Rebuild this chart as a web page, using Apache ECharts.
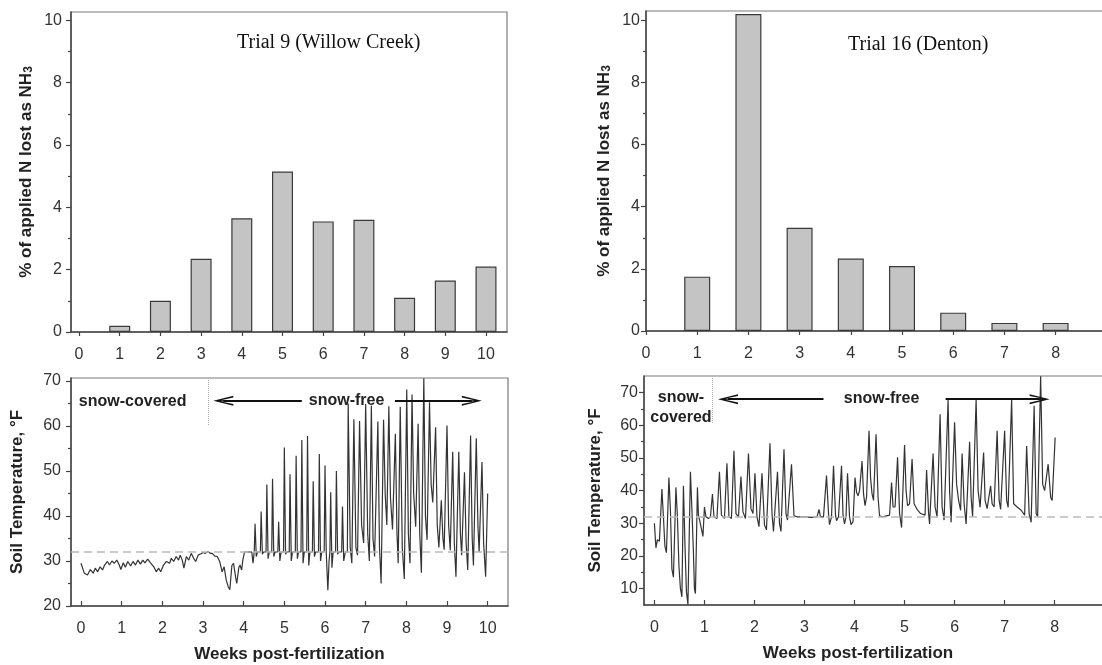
<!DOCTYPE html>
<html>
<head>
<meta charset="utf-8">
<script src="https://cdn.jsdelivr.net/npm/echarts@6/dist/echarts.min.js"></script>
<style>
html, body { margin: 0; padding: 0; background: #fff; }
#chart { width: 1102px; height: 665px; }
</style>
</head>
<body>
<div id="chart"></div>
<script>
// ammonia loss per week (% of applied N)
var trial9Weeks = [1, 2, 3, 4, 5, 6, 7, 8, 9, 10];
var trial9Loss = [0.2, 1.0, 2.35, 3.65, 5.15, 3.55, 3.6, 1.1, 1.65, 2.1];
var trial16Weeks = [1, 2, 3, 4, 5, 6, 7, 8];
var trial16Loss = [1.75, 10.2, 3.32, 2.33, 2.09, 0.59, 0.26, 0.26];

// tick labels
var weekTicks9 = [0, 1, 2, 3, 4, 5, 6, 7, 8, 9, 10];
var weekTicks16 = [0, 1, 2, 3, 4, 5, 6, 7, 8];
var lossTicks = [0, 2, 4, 6, 8, 10];
var lossMinorTicks = [1, 3, 5, 7, 9];
var tempTicks9 = [20, 30, 40, 50, 60, 70];
var tempMinorTicks9 = [25, 35, 45, 55, 65];
var tempTicks16 = [10, 20, 30, 40, 50, 60, 70];
var tempMinorTicks16 = [15, 25, 35, 45, 55, 65];

var freezing = 32;

// soil temperature [week, degF]
var trial9Temp = [
    [0.00, 29.5], [0.08, 27.3], [0.16, 26.9], [0.23, 28.1], [0.30, 27.3], [0.35, 28.4], [0.41, 27.6], [0.47, 28.7],
    [0.53, 28.0], [0.58, 29.1], [0.65, 29.9], [0.70, 29.1], [0.76, 30.0], [0.82, 29.5], [0.88, 30.2], [0.94, 29.1],
    [0.98, 28.1], [1.04, 29.6], [1.09, 28.6], [1.15, 29.9], [1.22, 28.9], [1.28, 29.9], [1.34, 29.1], [1.40, 30.2],
    [1.46, 29.3], [1.52, 30.2], [1.57, 29.6], [1.64, 30.4], [1.71, 29.6], [1.79, 28.7], [1.85, 27.6], [1.91, 28.4],
    [1.96, 27.6], [2.03, 29.1], [2.10, 29.9], [2.18, 29.5], [2.22, 30.6], [2.28, 29.9], [2.34, 31.0], [2.40, 30.2],
    [2.44, 31.3], [2.49, 30.2], [2.53, 28.4], [2.59, 31.0], [2.65, 30.2], [2.71, 31.7], [2.77, 30.6], [2.82, 29.9],
    [2.88, 31.3], [2.95, 31.6], [3.00, 31.9], [3.06, 31.7], [3.12, 32.1], [3.18, 31.7], [3.23, 31.7], [3.29, 31.1],
    [3.35, 31.0], [3.41, 29.9], [3.47, 27.6], [3.52, 28.7], [3.57, 25.8], [3.62, 24.3], [3.66, 23.6], [3.71, 29.0],
    [3.75, 29.5], [3.80, 26.5], [3.83, 25.0], [3.88, 28.5], [3.91, 29.1], [3.95, 28.0], [3.98, 30.2], [4.02, 32.0],
    [4.20, 32.0], [4.23, 29.5], [4.26, 32.0],
    [4.28, 38.3], [4.31, 31.0], [4.34, 32.0], [4.41, 32.0],
    [4.43, 41.0], [4.46, 31.5], [4.49, 32.0], [4.55, 32.0],
    [4.57, 47.0], [4.60, 30.5], [4.63, 32.0], [4.69, 32.0],
    [4.71, 48.3], [4.74, 31.0], [4.77, 32.0], [4.84, 32.0],
    [4.86, 38.7], [4.89, 30.0], [4.92, 32.0], [4.98, 32.0],
    [5.00, 55.2], [5.03, 31.5], [5.06, 32.0], [5.12, 32.0],
    [5.14, 49.3], [5.17, 30.0], [5.20, 32.0], [5.27, 32.0],
    [5.29, 53.4], [5.32, 30.5], [5.35, 32.0], [5.41, 32.0],
    [5.43, 56.9], [5.46, 29.5], [5.49, 32.0], [5.55, 32.0],
    [5.57, 57.8], [5.60, 29.0], [5.63, 32.0], [5.69, 32.0],
    [5.71, 47.7], [5.74, 31.0], [5.77, 32.0], [5.84, 32.0],
    [5.86, 53.8], [5.89, 30.0], [5.92, 32.0], [5.98, 32.0],
    [6.00, 51.2], [6.03, 32.0], [6.07, 23.5], [6.10, 30.0], [6.12, 32.0],
    [6.14, 45.3], [6.17, 28.5], [6.20, 32.0], [6.26, 32.0],
    [6.28, 50.0], [6.31, 31.5], [6.34, 32.0], [6.41, 32.0],
    [6.43, 42.1], [6.46, 30.0], [6.50, 32.0], [6.55, 32.0],
    [6.57, 65.0], [6.62, 33.0], [6.66, 29.5],
    [6.71, 61.5], [6.76, 33.0], [6.80, 31.3],
    [6.85, 61.1], [6.90, 38.0], [6.95, 34.0],
    [7.00, 64.9], [7.05, 36.0], [7.09, 30.0],
    [7.14, 64.5], [7.18, 35.0], [7.22, 31.0],
    [7.30, 61.0], [7.34, 33.0], [7.38, 25.0],
    [7.44, 61.4], [7.48, 45.0], [7.52, 38.0],
    [7.57, 64.4], [7.61, 44.0], [7.66, 37.0],
    [7.73, 58.3], [7.77, 36.0], [7.80, 29.5],
    [7.85, 64.3], [7.90, 33.0], [7.95, 26.0],
    [8.01, 68.1], [8.05, 36.0], [8.09, 29.5],
    [8.14, 67.0], [8.18, 45.0], [8.23, 37.6],
    [8.29, 60.5], [8.33, 36.0], [8.37, 27.4],
    [8.43, 70.6], [8.47, 40.0], [8.51, 34.7],
    [8.57, 65.3], [8.61, 47.0], [8.65, 43.0],
    [8.72, 59.7], [8.76, 38.0], [8.80, 33.0],
    [8.86, 43.5], [8.90, 35.0], [8.93, 32.5],
    [9.00, 60.1], [9.04, 38.0], [9.08, 32.4],
    [9.14, 54.3], [9.18, 34.0], [9.22, 26.5],
    [9.29, 54.3], [9.33, 36.0], [9.36, 31.3],
    [9.43, 49.7], [9.47, 34.0], [9.51, 28.0],
    [9.58, 57.9], [9.62, 35.0], [9.65, 29.0],
    [9.72, 57.3], [9.76, 38.0], [9.79, 32.0],
    [9.86, 52.0], [9.90, 34.0], [9.95, 26.5],
    [10.00, 45.0]
];

var trial16Temp = [
    [0.00, 30.0], [0.03, 22.5], [0.06, 25.0], [0.10, 24.5], [0.15, 40.5], [0.18, 32.0], [0.21, 23.0], [0.24, 21.0],
    [0.29, 44.0], [0.32, 34.0], [0.35, 16.0], [0.38, 13.5], [0.43, 41.0], [0.46, 32.0], [0.49, 17.0], [0.52, 10.0],
    [0.55, 7.5], [0.58, 41.5], [0.61, 24.0], [0.64, 9.0], [0.67, 5.2], [0.72, 45.8], [0.75, 34.0], [0.78, 21.0],
    [0.80, 10.0], [0.82, 8.5], [0.86, 41.0], [0.88, 32.5], [0.91, 30.5], [0.94, 31.0], [0.97, 26.0], [1.00, 35.0],
    [1.03, 32.0], [1.08, 31.5], [1.12, 32.0], [1.16, 39.0], [1.19, 32.0], [1.25, 31.5], [1.30, 45.8], [1.34, 32.5],
    [1.40, 31.5], [1.45, 48.4], [1.49, 32.0], [1.54, 31.5], [1.59, 52.2], [1.63, 33.0], [1.68, 32.0], [1.73, 44.3],
    [1.77, 33.5], [1.82, 31.5], [1.88, 51.4], [1.93, 34.5], [1.97, 33.0], [2.01, 45.3], [2.05, 32.0], [2.09, 29.0],
    [2.15, 45.3], [2.20, 29.5], [2.24, 28.0], [2.31, 54.5], [2.35, 33.0], [2.38, 27.5], [2.46, 45.8], [2.50, 30.0],
    [2.53, 27.5], [2.59, 52.7], [2.63, 33.0], [2.66, 31.0], [2.74, 48.1], [2.79, 32.3], [2.85, 32.0], [3.00, 32.0],
    [3.15, 31.8], [3.25, 32.0], [3.29, 34.3], [3.32, 32.0], [3.38, 32.0], [3.44, 44.6], [3.48, 33.0], [3.50, 29.6],
    [3.54, 32.0], [3.58, 47.6], [3.62, 32.5], [3.64, 30.8], [3.68, 32.0], [3.74, 47.6], [3.77, 32.5], [3.80, 29.8],
    [3.83, 32.0], [3.86, 45.3], [3.90, 32.0], [3.93, 29.6], [3.97, 30.5], [4.01, 44.0], [4.04, 39.5], [4.07, 38.4],
    [4.10, 40.0], [4.15, 49.1], [4.18, 39.0], [4.21, 35.4], [4.24, 38.0], [4.29, 58.3], [4.32, 44.0], [4.35, 39.0],
    [4.38, 37.0], [4.43, 57.3], [4.47, 38.0], [4.50, 32.3], [4.56, 32.0], [4.70, 32.5], [4.74, 42.5], [4.77, 35.0],
    [4.81, 35.0], [4.86, 50.2], [4.90, 33.0], [4.94, 28.7], [5.00, 54.0], [5.03, 40.0], [5.06, 35.4], [5.10, 36.0],
    [5.15, 49.7], [5.19, 36.0], [5.25, 34.3], [5.32, 33.0], [5.41, 32.5], [5.44, 46.3], [5.48, 33.0], [5.50, 29.8],
    [5.57, 51.4], [5.61, 35.0], [5.65, 32.0], [5.71, 63.4], [5.75, 35.0], [5.79, 31.0], [5.87, 67.8], [5.90, 40.0],
    [5.93, 30.3], [6.00, 60.9], [6.04, 42.0], [6.08, 37.0], [6.12, 34.0], [6.15, 51.4], [6.19, 36.0], [6.23, 29.8],
    [6.30, 55.0], [6.33, 38.0], [6.36, 32.0], [6.43, 67.8], [6.47, 40.0], [6.51, 34.9], [6.58, 51.7], [6.61, 37.0],
    [6.65, 34.5], [6.72, 41.5], [6.75, 36.0], [6.79, 35.0], [6.85, 58.3], [6.89, 37.0], [6.92, 34.3], [7.00, 58.3],
    [7.04, 37.0], [7.07, 34.9], [7.14, 67.8], [7.18, 36.0], [7.25, 35.0], [7.33, 34.0], [7.40, 32.5], [7.44, 53.7],
    [7.49, 33.0], [7.53, 30.3], [7.59, 66.0], [7.63, 33.0], [7.66, 32.0], [7.72, 75.0], [7.76, 42.0], [7.80, 40.0],
    [7.87, 48.1], [7.92, 38.0], [7.95, 37.0], [8.01, 56.3]
];

var font = 'Liberation Sans';
var ink = '#333';
var chevron = 'path://M5,0L10,20L8.2,20L5.6,7.5L5.6,20L4.4,20L4.4,7.5L1.8,20L0,20Z';

function pairs(xs, ys) {
    var out = [];
    for (var i = 0; i < xs.length; i++) {
        out.push([xs[i], ys[i]]);
    }
    return out;
}

function xAxisFor(grid, min, max, ticks, inside, name, namePad) {
    return {
        gridIndex: grid, type: 'value', min: min, max: max,
        axisLine: { onZero: false, lineStyle: { color: '#444', width: 1.5 } },
        axisTick: { customValues: ticks, inside: inside, length: inside ? 5 : 4, lineStyle: { color: '#444', width: 1.2 } },
        axisLabel: { customValues: ticks, margin: 15, fontSize: 16, color: ink, fontFamily: font },
        splitLine: { show: false },
        name: name || '', nameLocation: 'middle', nameGap: 40,
        nameTextStyle: { fontSize: 17, fontWeight: 'bold', color: '#222', fontFamily: font, padding: namePad || 0 }
    };
}

function yAxisFor(grid, min, max, ticks, margin, name, gap) {
    return {
        gridIndex: grid, type: 'value', min: min, max: max, position: 'left',
        axisLine: { onZero: false, lineStyle: { color: '#444', width: 1.5 } },
        axisTick: { customValues: ticks, length: 5, lineStyle: { color: '#444', width: 1.2 } },
        axisLabel: { customValues: ticks, margin: margin, fontSize: 16, color: ink, fontFamily: font },
        splitLine: { show: false },
        name: name, nameLocation: 'middle', nameGap: gap,
        nameTextStyle: {
            fontSize: 17, fontWeight: 'bold', color: '#222', fontFamily: font,
            rich: { sub: { fontSize: 12, fontWeight: 'bold', color: '#222', fontFamily: font, verticalAlign: 'bottom' } }
        }
    };
}

function minorAxis(grid, min, max, ticks) {
    return {
        gridIndex: grid, type: 'value', min: min, max: max, position: 'left',
        axisLine: { show: false, onZero: false },
        axisTick: { customValues: ticks, length: 3, lineStyle: { color: '#444', width: 1.2 } },
        axisLabel: { show: false },
        splitLine: { show: false }
    };
}

function textMark(w, t, text) {
    return { coord: [w, t], label: { formatter: text } };
}

var myChart = echarts.init(document.getElementById('chart'));

// the right-hand panels run past the page edge, as in the scan
var gridStyle = { show: true, borderColor: '#7a7a7a', borderWidth: 1.2, outerBoundsMode: 'none', containLabel: false };

var option = {
    animation: false,
    backgroundColor: '#fff',
    title: [
        { text: 'Trial 9 (Willow Creek)', left: 237, top: 33, padding: 0,
          textStyle: { fontFamily: 'Liberation Serif', fontWeight: 'normal', fontSize: 20, color: '#111' } },
        { text: 'Trial 16 (Denton)', left: 848, top: 35, padding: 0,
          textStyle: { fontFamily: 'Liberation Serif', fontWeight: 'normal', fontSize: 20, color: '#111' } }
    ],
    grid: [
        Object.assign({ left: 71, top: 12, width: 436, height: 320 }, gridStyle),
        Object.assign({ left: 646, top: 11, width: 480, height: 320 }, gridStyle),
        Object.assign({ left: 71, top: 378, width: 437, height: 228 }, gridStyle),
        Object.assign({ left: 644, top: 376, width: 480, height: 229 }, gridStyle)
    ],
    xAxis: [
        xAxisFor(0, -0.197, 10.516, weekTicks9, false),
        xAxisFor(1, 0, 9.375, weekTicks16, false),
        xAxisFor(2, -0.246, 10.5, weekTicks9, true, 'Weeks post-fertilization'),
        xAxisFor(3, -0.208, 9.386, weekTicks16, true, 'Weeks post-fertilization', [0, 52, 0, 0])
    ],
    yAxis: [
        yAxisFor(0, 0, 10.27, lossTicks, 9, '% of applied N lost as NH{sub|3}', 36),
        yAxisFor(1, 0, 10.3, lossTicks, 6, '% of applied N lost as NH{sub|3}', 33),
        yAxisFor(2, 20, 70.67, tempTicks9, 10, 'Soil Temperature, °F', 45),
        yAxisFor(3, 5, 75.1, tempTicks16, 6, 'Soil Temperature, °F', 40),
        minorAxis(0, 0, 10.27, lossMinorTicks),
        minorAxis(1, 0, 10.3, lossMinorTicks),
        minorAxis(2, 20, 70.67, tempMinorTicks9),
        minorAxis(3, 5, 75.1, tempMinorTicks16)
    ],
    series: [
        {
            name: 'Trial 9 loss', type: 'bar', xAxisIndex: 0, yAxisIndex: 0,
            barWidth: 21,
            itemStyle: { color: '#c4c4c4', borderColor: '#3a3a3a', borderWidth: 1.2 },
            data: pairs(trial9Weeks, trial9Loss)
        },
        {
            name: 'Trial 16 loss', type: 'bar', xAxisIndex: 1, yAxisIndex: 1,
            barWidth: 26,
            itemStyle: { color: '#c4c4c4', borderColor: '#3a3a3a', borderWidth: 1.2 },
            data: pairs(trial16Weeks, trial16Loss)
        },
        {
            name: 'Trial 9 soil temperature', type: 'line', xAxisIndex: 2, yAxisIndex: 2,
            symbol: 'none', clip: true,
            lineStyle: { color: '#333', width: 1.2 },
            data: trial9Temp,
            markLine: {
                silent: true, symbol: ['none', 'none'], label: { show: false },
                data: [
                    { yAxis: freezing, lineStyle: { color: '#bbb', type: [8, 5], width: 1.5 } },
                    [{ coord: [3.12, 70.67], lineStyle: { color: '#aaa', type: 'dotted', width: 1 } }, { coord: [3.12, 60] }],
                    [{ coord: [3.50, 65.6], symbol: chevron, symbolSize: [10, 20], lineStyle: { color: '#111', type: 'solid', width: 2 } },
                     { coord: [5.43, 65.6] }],
                    [{ coord: [7.72, 65.6], lineStyle: { color: '#111', type: 'solid', width: 2 } },
                     { coord: [9.61, 65.6], symbol: chevron, symbolSize: [10, 20] }]
                ]
            },
            markPoint: {
                silent: true, symbol: 'circle', symbolSize: 1,
                itemStyle: { color: 'rgba(0,0,0,0)' },
                label: { show: true, position: 'inside', fontSize: 16, fontWeight: 'bold', color: '#222', fontFamily: font },
                data: [textMark(1.27, 65.4, 'snow-covered'), textMark(6.53, 65.6, 'snow-free')]
            }
        },
        {
            name: 'Trial 16 soil temperature', type: 'line', xAxisIndex: 3, yAxisIndex: 3,
            symbol: 'none', clip: true,
            lineStyle: { color: '#333', width: 1.2 },
            data: trial16Temp,
            markLine: {
                silent: true, symbol: ['none', 'none'], label: { show: false },
                data: [
                    { yAxis: freezing, lineStyle: { color: '#bbb', type: [8, 5], width: 1.5 } },
                    [{ coord: [1.15, 75.1], lineStyle: { color: '#aaa', type: 'dotted', width: 1 } }, { coord: [1.15, 60.6] }],
                    [{ coord: [1.47, 68.0], symbol: chevron, symbolSize: [10, 20], lineStyle: { color: '#111', type: 'solid', width: 2 } },
                     { coord: [3.38, 68.0] }],
                    [{ coord: [5.82, 68.0], lineStyle: { color: '#111', type: 'solid', width: 2 } },
                     { coord: [7.70, 68.0], symbol: chevron, symbolSize: [10, 20] }]
                ]
            },
            markPoint: {
                silent: true, symbol: 'circle', symbolSize: 1,
                itemStyle: { color: 'rgba(0,0,0,0)' },
                label: { show: true, position: 'inside', fontSize: 16, fontWeight: 'bold', color: '#222', fontFamily: font, lineHeight: 20, align: 'center' },
                data: [textMark(0.53, 65.5, 'snow-\ncovered'), textMark(4.54, 68.3, 'snow-free')]
            }
        }
    ]
};

myChart.setOption(option);
</script>
</body>
</html>
